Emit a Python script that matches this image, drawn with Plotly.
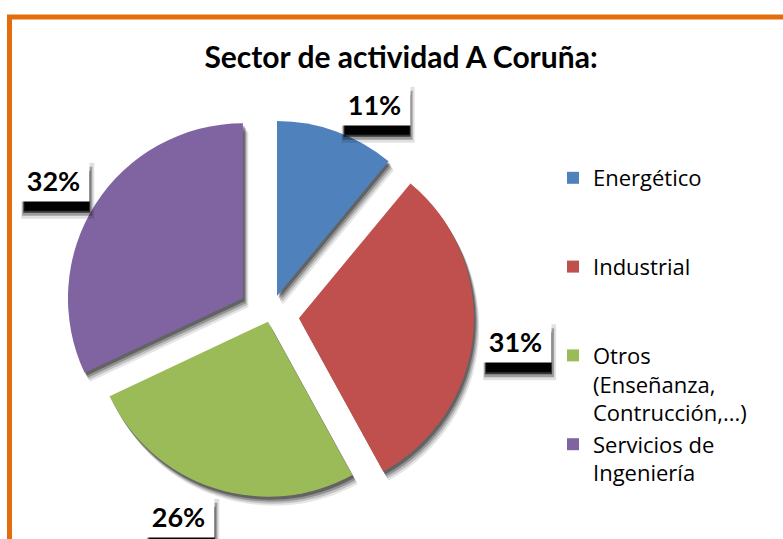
import math
import plotly.graph_objects as go

# ---- data ----
categories = ["Energético", "Industrial", "Otros (Enseñanza, Contrucción,...)", "Servicios de Ingeniería"]
legend_labels = [
    "Energético<br> <br> ",
    "Industrial<br> <br> ",
    "Otros<br>(Enseñanza,<br>Contrucción,...)",
    "Servicios de<br>Ingeniería",
]
values = [11, 31, 26, 32]
explode = [0.118, 0.166, 0.037, 0.183]   # how far each slice is pulled out (fraction of radius)
colors = ["#4F81BD", "#C0504D", "#9BBB59", "#8064A2"]
title_text = "Sector de actividad A Coruña:"

W, H = 783, 539
FONT = "Lato, Open Sans, sans-serif"
LFONT = "Open Sans, Lato, sans-serif"

# pie geometry (pixels)
cx, cy = 270, 315.5
R = 175
S = 2 * R * (1 + max(explode))

def dom(cxp, cyp):
    return dict(
        x=[(cxp - S / 2) / W, (cxp + S / 2) / W],
        y=[(H - cyp - S / 2) / H, (H - cyp + S / 2) / H],
    )

fig = go.Figure()

# soft shadow layers under the pie
for off, alpha in [(9, 0.10), (7, 0.16), (5, 0.24), (3, 0.32)]:
    fig.add_trace(go.Pie(
        labels=categories, values=values, sort=False, direction="clockwise",
        rotation=0, pull=explode, domain=dom(cx + off * 0.6, cy + off),
        marker=dict(colors=[f"rgba(0,0,0,{alpha})"] * 4, line=dict(width=0)),
        textinfo="none", hoverinfo="skip", showlegend=False,
    ))

fig.add_trace(go.Pie(
    labels=legend_labels, values=values, sort=False, direction="clockwise",
    rotation=0, pull=explode, domain=dom(cx, cy),
    marker=dict(colors=colors, line=dict(width=0)),
    textinfo="none", hoverinfo="label+percent", showlegend=True,
))

# percentage labels: "outside end" placement - box set against the arc point at each slice's mid-angle
BW, BH = 71, 42   # label box size incl. padding
GAP = 7

def clamp(a):
    return max(-1.0, min(1.0, a))

total = sum(values)
cum = 0
annotations = []
shapes = []
# (left inset, right extension, extra depth below, top cut, colour) for the blurred drop shadow
shadow_layers = [(3, 5, 18, 4, "rgba(0,0,0,0.12)"), (4, 3, 15, 8, "rgba(0,0,0,0.3)"),
                 (5, 1, 12, 12, "rgba(0,0,0,0.65)"), (6, 0, 10, 14, "rgba(0,0,0,0.95)")]
for v, p in zip(values, explode):
    mid = (cum + v / 2) / total * 2 * math.pi
    cum += v
    ux, uy = math.sin(mid), -math.cos(mid)
    dist = R * (1 + p) + GAP
    px = cx + dist * ux + BW / 2 * clamp(3 * ux)
    py = cy + dist * uy + BH / 2 * clamp(3 * uy)
    xa, ya = px / W, 1 - py / H
    for inset, ext, depth, cut, col in shadow_layers:
        shapes.append(dict(type="rect", xref="paper", yref="paper",
                           xsizemode="pixel", ysizemode="pixel", xanchor=xa, yanchor=ya,
                           x0=-BW / 2 + inset, x1=BW / 2 + ext,
                           y0=-BH / 2 - depth, y1=BH / 2 - cut,
                           fillcolor=col, line=dict(width=0), layer="above"))
    annotations.append(dict(text=f"<b>{round(v / total * 100)}%</b>",
                            xref="paper", yref="paper", x=xa, y=ya,
                            showarrow=False, width=BW - 4, height=BH - 4, borderpad=2,
                            xanchor="center", yanchor="middle", bgcolor="white",
                            font=dict(size=27, color="black", family=FONT)))

# orange frame
shapes.append(dict(type="rect", xref="paper", yref="paper",
                   x0=9.5 / W, x1=1.05, y0=-0.05, y1=1 - 17 / H,
                   line=dict(color="#E46C0A", width=5), fillcolor="rgba(0,0,0,0)",
                   layer="above"))

fig.update_layout(
    width=W, height=H,
    margin=dict(l=0, r=0, t=0, b=0),
    paper_bgcolor="white", plot_bgcolor="white",
    title=dict(text=f"<b>{title_text}</b>", x=401 / W, y=1 - 57 / H,
               xanchor="center", yanchor="middle",
               font=dict(size=30, color="black", family=FONT)),
    legend=dict(x=553 / W, y=1 - 157 / H, xanchor="left", yanchor="top",
                valign="top", font=dict(size=22, color="black", family=LFONT),
                bgcolor="rgba(0,0,0,0)", itemwidth=30, tracegroupgap=0),
    annotations=annotations,
    shapes=shapes,
)

fig.write_html("out.html", config={"displayModeBar": False},
               post_script="document.body.style.margin='0px';")
